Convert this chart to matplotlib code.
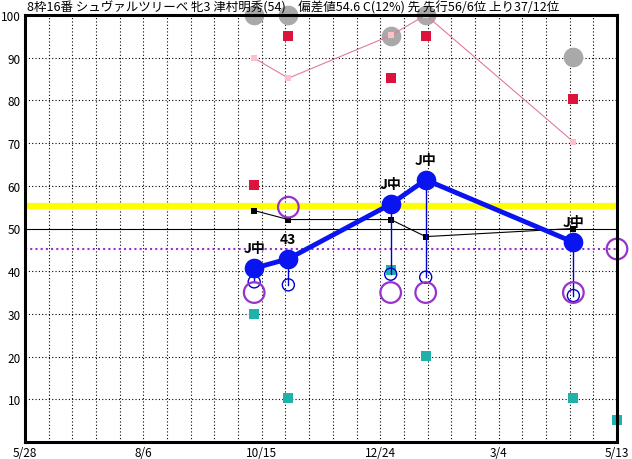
import matplotlib
matplotlib.use("Agg")
import matplotlib.pyplot as plt
import numpy as np

plt.rcParams['font.family'] = ['Noto Sans CJK JP', 'DejaVu Sans']

title = "8枠16番 シュヴァルツリーベ 牝3 津村明秀(54)　偏差値54.6 C(12%) 先 先行56/6位 上り37/12位"

# days since 5/28
days = [135.5, 155.7, 216.2, 236.9, 324.2]
score = [40.7, 42.9, 55.7, 61.4, 46.8]
labels = ["J中", "43", "J中", "J中", "J中"]
small_circ = [37.5, 36.8, 39.3, 38.6, 34.3]
black_sq = [54.2, 52.1, 52.1, 48.1, 50.0]
red_sq = [60.2, 95.1, 85.2, 95.0, 80.3]
gray_circ = [100, 100, 95.1, 100, 90.2]
pink_line = [89.9, 85.2, 95.2, 100, 70.3]
teal_days = [135.5, 155.7, 216.2, 236.9, 324.2, 350]
teal_sq = [30.0, 10.3, 40.3, 20.1, 10.3, 5.2]
purple_days = [135.5, 155.7, 216.2, 236.9, 324.2, 350]
purple_circ = [35.0, 55.0, 35.0, 35.0, 35.0, 45.2]
yellow_level = 55.3
purple_level = 45.2

xtick_days = [0, 70, 140, 210, 280, 350]
xtick_labels = ["5/28", "8/6", "10/15", "12/24", "3/4", "5/13"]

fig = plt.figure(figsize=(6.32, 4.6), dpi=100)
ax = fig.add_axes([25 / 632, 17 / 460, 592 / 632, 427 / 460])
ax.set_xlim(0, 350)
ax.set_ylim(0, 100)

for d in range(14, 350, 14):
    ax.axvline(d, color="black", lw=0.8, ls=(0, (1, 2)), zorder=1)
for v in range(10, 100, 10):
    if v == 50:
        ax.axhline(v, color="black", lw=0.8, zorder=1)
    else:
        ax.axhline(v, color="black", lw=0.8, ls=(0, (1, 2)), zorder=1)

ax.axhline(yellow_level, color="#ffff00", lw=4.5, zorder=2)
ax.axhline(purple_level, color="#9932cc", lw=1.5, ls=(0, (1, 1.5)), zorder=2)

ax.scatter(days, gray_circ, s=200, color="#a9a9a9", zorder=3, clip_on=False, linewidths=0)
ax.plot(days, pink_line, color="#e07aa0", lw=0.8, zorder=4)
ax.scatter(days, pink_line, s=22, marker="s", color="#ffc0cb", zorder=4, linewidths=0)
ax.scatter(days, red_sq, s=55, marker="s", color="#dc143c", zorder=4, linewidths=0)
ax.scatter(teal_days, teal_sq, s=45, marker="s", color="#20b2aa", zorder=4,
           linewidths=0, clip_on=False)

ax.plot(days, black_sq, color="black", lw=0.8, zorder=5)
ax.scatter(days, black_sq, s=22, marker="s", color="black", zorder=5, linewidths=0)

for d, s, c in zip(days, score, small_circ):
    ax.plot([d, d], [s, c], color="#0000cc", lw=1.0, zorder=6)
ax.scatter(days, small_circ, s=75, facecolors="none", edgecolors="#0000cc",
           linewidths=1.0, zorder=6)
ax.scatter(purple_days, purple_circ, s=220, facecolors="none", edgecolors="#9932cc",
           linewidths=1.6, zorder=7, clip_on=False)

ax.plot(days, score, color="#0a14f0", lw=3.5, zorder=8)
ax.scatter(days, score, s=200, color="#0a14f0", zorder=8, linewidths=0)
for d, s, t in zip(days, score, labels):
    ax.text(d, s + 3.0, t, ha="center", va="bottom", fontsize=10,
            fontweight="bold", zorder=9)

ax.set_xticks(xtick_days)
ax.set_xticklabels(xtick_labels, fontsize=8.5)
ax.set_yticks(range(10, 101, 10))
ax.set_yticklabels([str(v) for v in range(10, 101, 10)], fontsize=8.5)
ax.tick_params(length=0, pad=3)
for sp in ax.spines.values():
    sp.set_linewidth(2.2)
    sp.set_zorder(10)

fig.text(27 / 632, 1 - 8 / 460, title, ha="left", va="center", fontsize=9)

fig.savefig("out.png", dpi=100)
